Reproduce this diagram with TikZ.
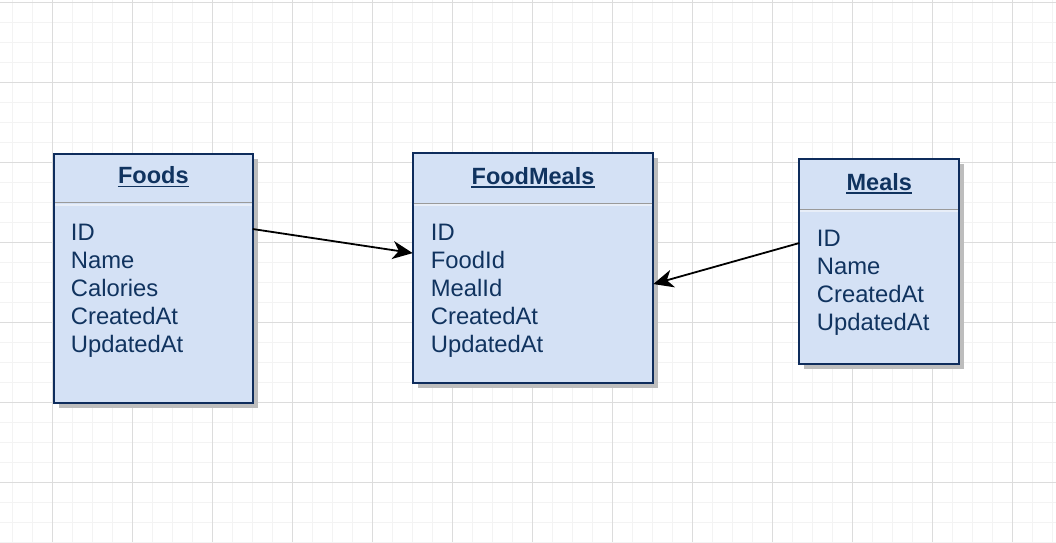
\documentclass[tikz,border=0pt]{standalone}
\usepackage{fontspec}
\setmainfont{Liberation Sans}
\usetikzlibrary{arrows.meta,calc}
\definecolor{gridminor}{HTML}{F3F3F3}
\definecolor{gridmajor}{HTML}{DCDCDC}
\definecolor{boxfill}{HTML}{D4E1F5}
\definecolor{boxline}{HTML}{0E2C5C}
\definecolor{txt}{HTML}{10335F}
\definecolor{shadowc}{HTML}{BDBDBD}
\definecolor{sepc}{HTML}{9A9A9A}
\definecolor{sepl}{HTML}{E8EEF8}
\tikzset{
  tablebox/.style={draw=boxline, line width=2pt, fill=boxfill, inner sep=0pt, outer sep=0pt},
  ttl/.style={inner sep=0pt, text=txt, font=\fontsize{23.5}{28}\selectfont\bfseries, anchor=base},
  field/.style={inner sep=0pt, text=txt, font=\fontsize{23.8}{28}\selectfont, anchor=base west},
  conn/.style={black, line width=1.8pt, -{Stealth[length=20pt, width=18pt, inset=6pt]}},
}
\newcommand{\erbox}[8]{% name, x1, y1, x2, y2, sepy, title, title baseline
  \fill[shadowc] (#2+5,#3+5) rectangle (#4+5,#5+5);
  \node[tablebox, minimum width=#4-#2, minimum height=#5-#3, anchor=north west] (#1) at (#2,#3) {};
  \draw[sepl, line width=2pt] (#2+1,#6+2) -- (#4-1,#6+2);
  \draw[sepc, line width=1.5pt] (#2+1,#6) -- (#4-1,#6);
  \node[ttl] (#1-title) at ({(#2+#4)/2},#8) {#7};
  \draw[txt, line width=1.6pt] ([yshift=-3pt]#1-title.base west) -- ([yshift=-3pt]#1-title.base east);
}
\begin{document}
\begin{tikzpicture}[x=1pt,y=-1pt]
\useasboundingbox (0,0) rectangle (1056,542);
\fill[white] (0,0) rectangle (1056,542);
% grid
\foreach \gx in {12,32,...,1052} \draw[gridminor, line width=1pt] (\gx,0) -- (\gx,542);
\foreach \gy in {2,22,...,542} \draw[gridminor, line width=1pt] (0,\gy) -- (1056,\gy);
\foreach \gx in {52,132,...,1052} \draw[gridmajor, line width=1pt] (\gx,0) -- (\gx,542);
\foreach \gy in {2,82,...,542} \draw[gridmajor, line width=1pt] (0,\gy) -- (1056,\gy);

% Foods
\erbox{foods}{54}{153.5}{252.7}{402.7}{202.7}{Foods}{183.5}
\foreach \t [count=\i] in {ID,Name,Calories,CreatedAt,UpdatedAt}
  \node[field] (foods-f\i) at (70.7,{240+28*(\i-1)}) {\t};

% FoodMeals
\erbox{foodmeals}{412.7}{153.3}{653.3}{382.7}{203.3}{FoodMeals}{184}
\foreach \t [count=\i] in {ID,FoodId,MealId,CreatedAt,UpdatedAt}
  \node[field] (foodmeals-f\i) at (430.7,{240+28*(\i-1)}) {\t};

% Meals
\erbox{meals}{799.3}{159.3}{959.3}{364}{209.3}{Meals}{190}
\foreach \t [count=\i] in {ID,Name,CreatedAt,UpdatedAt}
  \node[field] (meals-f\i) at (816.7,{246+28*(\i-1)}) {\t};

% connectors
\draw[conn] ($(foods.north east)!0.303!(foods.south east)$) -- ($(foodmeals.north west)!0.435!(foodmeals.south west)$);
\draw[conn] ($(meals.north west)!0.409!(meals.south west)$) -- ($(foodmeals.north east)!0.57!(foodmeals.south east)$);
\end{tikzpicture}
\end{document}
